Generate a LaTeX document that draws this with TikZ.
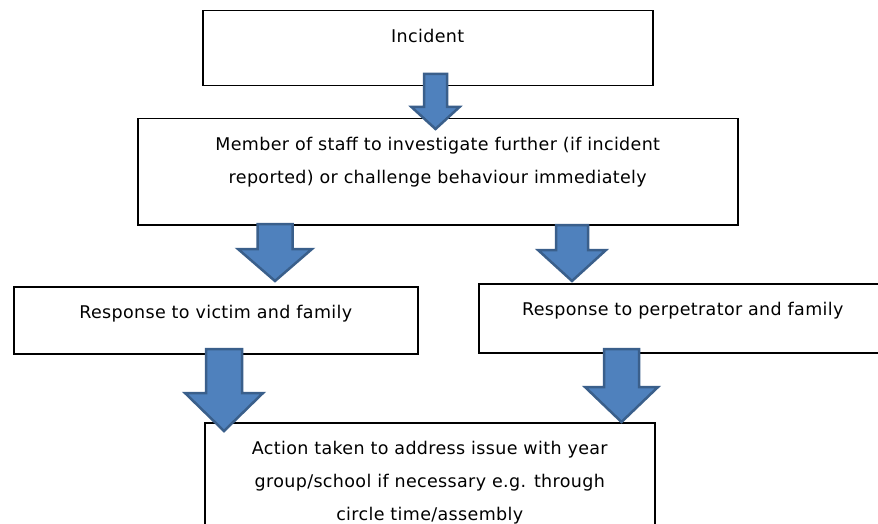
\documentclass[tikz,border=0pt]{standalone}
\usepackage{fontspec}
\setmainfont[LetterSpace=2]{DejaVu Sans}
\usepackage{tikz}
\usetikzlibrary{positioning}
\definecolor{arrfill}{HTML}{4F81BD}
\definecolor{arrline}{HTML}{3A5F8B}
% block arrow: centre x, shaft top, head base, tip, shaft half width, head half width
\newcommand{\dnarrow}[6]{%
  \draw[blk] (#1-#5,-#2) -- (#1+#5,-#2) -- (#1+#5,-#3) -- (#1+#6,-#3)
    -- (#1,-#4) -- (#1-#6,-#3) -- (#1-#5,-#3) -- cycle;}

\begin{document}
\begin{tikzpicture}[x=1pt,y=1pt,
  font=\fontsize{17.5}{33}\selectfont,
  box/.style={draw,line width=1.5pt,anchor=north west,inner sep=0pt},
  txt/.style={inner sep=0pt,align=center},
  blk/.style={fill=arrfill,draw=arrline,line width=2.5pt,line join=miter}]
\clip (0,0) rectangle (878,-524);
\fill[white] (0,0) rectangle (878,-524);
% boxes
\node[box,minimum width=450pt,minimum height=75pt] (inc) at (202,-10) {};
\node[box,minimum width=600pt,minimum height=106pt] (staff) at (137,-118) {};
\node[box,minimum width=404pt,minimum height=67pt] (vic) at (13,-286) {};
\node[box,minimum width=408pt,minimum height=69pt] (perp) at (478,-283) {};
\node[box,minimum width=450pt,minimum height=130pt] (act) at (204,-422) {};
% arrows
\dnarrow{435.5}{74}{107}{129}{11.5}{24}
\dnarrow{275}{224}{249}{281}{17.5}{37}
\dnarrow{572}{225}{250}{281}{16}{34}
\dnarrow{224}{349}{393}{431}{18}{39}
\dnarrow{621.5}{349}{387}{422}{17.5}{36.5}
% texts
\node[txt,below=19pt of inc.north] (incT) {Incident};
\node[txt,below=19pt of staff.north] (staffT) {Member of staff to investigate further (if incident\\reported) or challenge behaviour immediately};
\node[txt,below=19pt of vic.north] (vicT) {Response to victim and family};
\node[txt,below=19pt of perp.north] (perpT) {Response to perpetrator and family};
\node[txt,below=19pt of act.north] (actT) {Action taken to address issue with year\\group/school if necessary e.g. through\\circle time/assembly};
\end{tikzpicture}
\end{document}
